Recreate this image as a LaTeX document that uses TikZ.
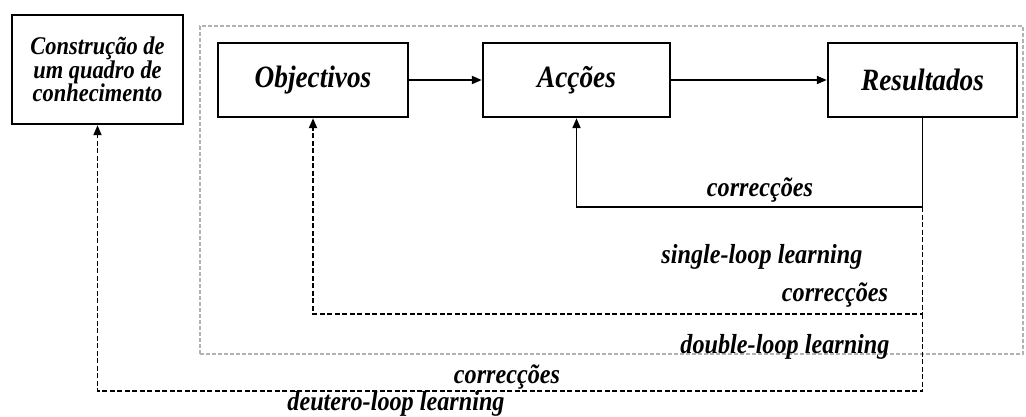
\documentclass[tikz,border=0pt]{standalone}
\usepackage{fontspec}
\setmainfont{Liberation Serif}[FakeStretch=0.88]
\usetikzlibrary{arrows.meta}
\begin{document}
\begin{tikzpicture}[x=1pt,y=-1pt,
  box/.style={draw=black, line width=2.4pt, fill=white, inner sep=0pt,
    font=\fontsize{31}{32}\selectfont\bfseries\itshape, align=center},
  knowbox/.style={box, font=\fontsize{25.5}{23.5}\selectfont\bfseries\itshape},
  region/.style={draw=black!30, line width=1.3pt, dash pattern=on 4pt off 2pt, inner sep=0pt},
  flow/.style={line width=1.9pt, -{Triangle[length=10pt,width=8pt]}},
  loopline/.style={line width=1.9pt, dash pattern=on 5pt off 2.5pt,
    -{Triangle[length=10pt,width=8pt]}},
  lbl/.style={font=\fontsize{27.5}{29}\selectfont\bfseries\itshape, inner sep=0pt}
]
\useasboundingbox (0,0) rectangle (1026,416);

% shaded frame around the learning cycle
\node[region, minimum width=823pt, minimum height=328pt] (frame) at (611.5,190) {};

% boxes
\node[knowbox, minimum width=171pt, minimum height=109pt] (know) at (97.5,69.5)
  {Construção de\\um quadro de\\conhecimento};
\node[box, minimum width=190pt, minimum height=74pt] (obj) at (313,80) {Objectivos};
\node[box, minimum width=187pt, minimum height=74pt] (acc) at (576.5,80) {Acções};
\node[box, minimum width=189pt, minimum height=74pt] (res) at (922.5,80) {Resultados};

% main flow
\draw[flow] (obj) -- (acc);
\draw[flow] (acc) -- (res);

% feedback loops
\coordinate (c1) at (922.5,207);
\coordinate (c2) at (922.5,314);
\coordinate (c3) at (922.5,391);
\draw[flow] (res.south) -- (c1) -| (acc.south);
\draw[loopline] (c1) -- (c2) -| (obj.south);
\draw[loopline] (c2) -- (c3) -| (know.south);

% loop labels
\node[lbl] (l1) at (760,190) {correcções};
\node[lbl] (l2) at (762,257) {single-loop learning};
\node[lbl] (l3) at (835,295) {correcções};
\node[lbl] (l4) at (785,347) {double-loop learning};
\node[lbl] (l5) at (507,377) {correcções};
\node[lbl, anchor=base] (l6) at (396,410) {deutero-loop learning};
\end{tikzpicture}
\end{document}
